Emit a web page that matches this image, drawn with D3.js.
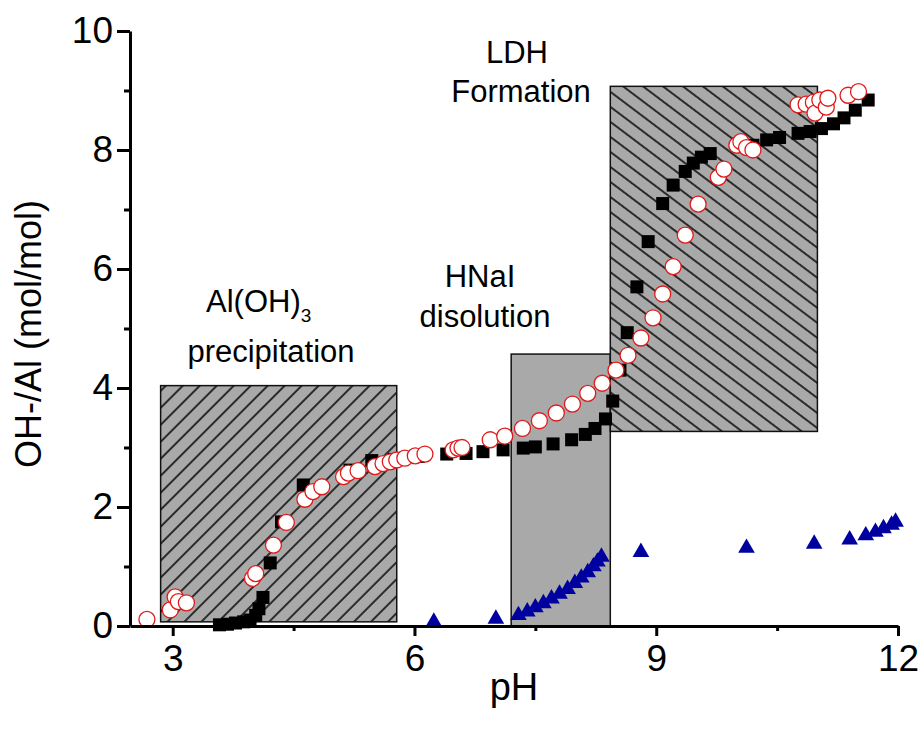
<!DOCTYPE html>
<html>
<head>
<meta charset="utf-8">
<script src="https://cdn.jsdelivr.net/npm/d3@7"></script>
<style>
  body { margin: 0; background: #fff; }
  svg { display: block; font-family: "Liberation Sans", Arial, sans-serif; }
</style>
</head>
<body>
<div id="chart"></div>
<script>
// Series: [pH, OH/Al]
const squares = [
  [3.58, 0.02], [3.68, 0.03], [3.78, 0.05], [3.88, 0.07], [3.96, 0.10], [4.03, 0.18],
  [4.07, 0.29], [4.12, 0.48], [4.21, 1.06], [4.35, 1.75], [4.62, 2.37], [5.2, 2.62],
  [5.47, 2.78], [5.75, 2.80], [6.05, 2.85], [6.40, 2.89], [6.64, 2.90], [6.85, 2.93],
  [7.10, 2.96], [7.35, 2.99], [7.50, 3.01], [7.72, 3.06], [7.95, 3.13], [8.12, 3.22],
  [8.24, 3.32], [8.37, 3.48], [8.46, 3.78], [8.55, 4.30], [8.64, 4.93], [8.76, 5.70],
  [8.90, 6.46], [9.08, 7.10], [9.21, 7.41], [9.36, 7.64], [9.46, 7.78], [9.56, 7.88],
  [9.67, 7.94], [10.20, 8.08], [10.37, 8.17], [10.53, 8.21], [10.76, 8.28], [10.91, 8.31],
  [11.05, 8.36], [11.20, 8.44], [11.33, 8.54], [11.47, 8.67], [11.63, 8.84]
];
const circles = [
  [2.68, 0.11], [2.97, 0.27], [3.03, 0.49], [3.07, 0.41], [3.17, 0.39], [3.99, 0.80],
  [4.03, 0.88], [4.25, 1.36], [4.41, 1.74], [4.64, 2.13], [4.74, 2.26], [4.85, 2.34],
  [5.12, 2.51], [5.18, 2.57], [5.30, 2.61], [5.51, 2.68], [5.61, 2.73], [5.70, 2.76],
  [5.78, 2.79], [5.88, 2.82], [6.01, 2.86], [6.13, 2.89], [6.48, 2.96], [6.54, 2.99],
  [6.59, 3.00], [6.94, 3.13], [7.12, 3.19], [7.34, 3.32], [7.55, 3.45], [7.76, 3.58],
  [7.96, 3.73], [8.15, 3.91], [8.33, 4.08], [8.50, 4.30], [8.65, 4.55], [8.81, 4.84],
  [8.96, 5.18], [9.08, 5.58], [9.21, 6.04], [9.36, 6.57], [9.52, 7.09], [9.77, 7.54],
  [9.84, 7.68], [10.00, 8.08], [10.05, 8.14], [10.12, 8.04], [10.20, 8.00], [10.76, 8.76],
  [10.86, 8.77], [10.95, 8.80], [10.97, 8.62], [11.03, 8.84], [11.11, 8.72], [11.13, 8.87],
  [11.38, 8.92], [11.51, 8.98]
];
const triangles = [
  [6.24, 0.07], [7.01, 0.12], [7.29, 0.18], [7.40, 0.24], [7.50, 0.31], [7.60, 0.38],
  [7.70, 0.46], [7.80, 0.54], [7.90, 0.62], [7.99, 0.72], [8.07, 0.81], [8.15, 0.90],
  [8.22, 1.00], [8.27, 1.08], [8.32, 1.16], [8.81, 1.24], [10.12, 1.31], [10.96, 1.38],
  [11.40, 1.45], [11.60, 1.52], [11.72, 1.58], [11.82, 1.64], [11.92, 1.70], [11.97, 1.75]
];

// Shaded regions: [x0, x1, y0, y1, hatch]
const regions = [
  [2.85, 5.78, 0.07, 4.04, "hatchUp"],
  [7.20, 8.43, 0.0, 4.57, null],
  [8.43, 11.0, 3.27, 9.07, "hatchDown"]
];

const xTicks = [3, 6, 9, 12];
const xMinor = [4.5, 7.5, 10.5];
const yTicks = [0, 2, 4, 6, 8, 10];
const yMinor = [1, 3, 5, 7, 9];

const width = 923;
const height = 730;

const x = d3.scaleLinear().domain([2.47, 12]).range([130, 898]);
const y = d3.scaleLinear().domain([0, 10]).range([626, 31]);

const svg = d3.select("#chart").append("svg")
    .attr("width", width)
    .attr("height", height);

// Hatch patterns
const defs = svg.append("defs");
function hatch(id, angle, spacing) {
    const p = defs.append("pattern")
        .attr("id", id)
        .attr("patternUnits", "userSpaceOnUse")
        .attr("width", 40)
        .attr("height", spacing)
        .attr("patternTransform", `rotate(${angle})`);
    p.append("rect").attr("width", 40).attr("height", spacing).attr("fill", "#a9a9a9");
    p.append("line")
        .attr("x1", 0).attr("x2", 40)
        .attr("y1", spacing / 2).attr("y2", spacing / 2)
        .attr("stroke", "#000")
        .attr("stroke-width", 1.7);
}
hatch("hatchUp", -45, 12);
hatch("hatchDown", 37, 12);

svg.append("g")
    .selectAll("rect")
    .data(regions)
    .join("rect")
    .attr("x", d => x(d[0]))
    .attr("y", d => y(d[3]))
    .attr("width", d => x(d[1]) - x(d[0]))
    .attr("height", d => y(d[2]) - y(d[3]))
    .attr("fill", d => d[4] ? `url(#${d[4]})` : "#a9a9a9")
    .attr("stroke", "#111")
    .attr("stroke-width", 1.5);

// Annotations
const notes = svg.append("g")
    .attr("font-size", 31)
    .attr("fill", "#000");
notes.append("text").attr("x", 517).attr("y", 63).attr("text-anchor", "middle").text("LDH");
notes.append("text").attr("x", 521).attr("y", 102).attr("text-anchor", "middle").text("Formation");
notes.append("text").attr("x", 480).attr("y", 287).attr("text-anchor", "middle").text("HNaI");
notes.append("text").attr("x", 485).attr("y", 327).attr("text-anchor", "middle").text("disolution");
const alText = notes.append("text").attr("x", 206).attr("y", 312);
alText.append("tspan").text("Al(OH)");
alText.append("tspan").attr("font-size", 19).attr("dy", 10).text("3");
notes.append("text").attr("x", 271).attr("y", 362).attr("text-anchor", "middle").text("precipitation");

// Data
svg.append("g")
    .selectAll("path")
    .data(squares)
    .join("path")
    .attr("transform", d => `translate(${x(d[0])},${y(d[1])})`)
    .attr("d", d3.symbol(d3.symbolSquare, 169))
    .attr("fill", "#000");

svg.append("g")
    .selectAll("circle")
    .data(circles)
    .join("circle")
    .attr("cx", d => x(d[0]))
    .attr("cy", d => y(d[1]))
    .attr("r", 8)
    .attr("fill", "#fff")
    .attr("stroke", "#e01a1a")
    .attr("stroke-width", 1.3);

svg.append("g")
    .selectAll("path")
    .data(triangles)
    .join("path")
    .attr("transform", d => `translate(${x(d[0])},${y(d[1])})`)
    .attr("d", d3.symbol(d3.symbolTriangle, 120))
    .attr("fill", "#0000a0");

// Axes
svg.append("g")
    .attr("transform", `translate(0,${y(0)})`)
    .call(d3.axisBottom(x).tickValues(xTicks).tickFormat(d3.format("d"))
        .tickSize(10).tickSizeOuter(0).tickPadding(9));
svg.append("g")
    .attr("transform", `translate(0,${y(0)})`)
    .call(d3.axisBottom(x).tickValues(xMinor).tickFormat("").tickSize(5).tickSizeOuter(0))
    .call(g => g.select(".domain").remove());

svg.append("g")
    .attr("transform", `translate(${x.range()[0]},0)`)
    .call(d3.axisLeft(y).tickValues(yTicks).tickSize(13).tickSizeOuter(0).tickPadding(4));
svg.append("g")
    .attr("transform", `translate(${x.range()[0]},0)`)
    .call(d3.axisLeft(y).tickValues(yMinor).tickFormat("").tickSize(6).tickSizeOuter(0))
    .call(g => g.select(".domain").remove());

svg.selectAll(".domain").attr("stroke", "#000").attr("stroke-width", 3);
svg.selectAll(".tick line").attr("stroke", "#000").attr("stroke-width", 3);
svg.selectAll(".tick text")
    .attr("font-size", 37)
    .attr("font-family", "'Liberation Sans', Arial, sans-serif")
    .attr("fill", "#000");

// Axis titles
svg.append("text")
    .attr("x", 514)
    .attr("y", 700)
    .attr("text-anchor", "middle")
    .attr("font-size", 38)
    .text("pH");

svg.append("text")
    .attr("transform", "translate(41,334) rotate(-90)")
    .attr("text-anchor", "middle")
    .attr("font-size", 36)
    .text("OH-/Al (mol/mol)");
</script>
</body>
</html>
